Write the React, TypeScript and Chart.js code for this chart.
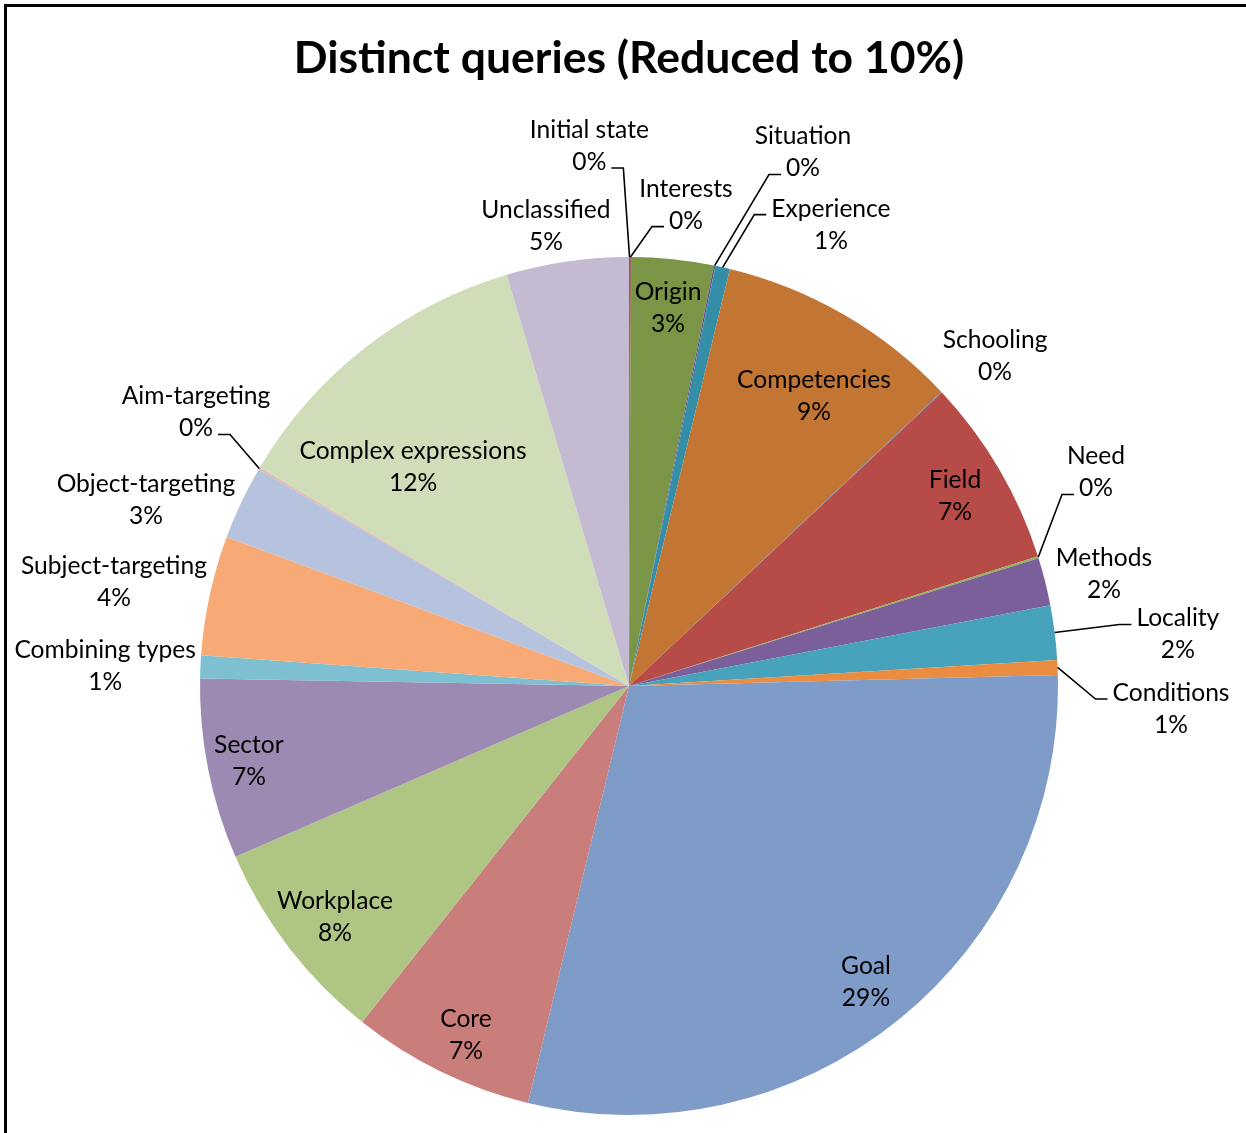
import React, { useEffect, useRef } from "react";
import { Chart, registerables } from "chart.js";

Chart.register(...registerables);

const chartTitle = "Distinct queries (Reduced to 10%)";

const categories = [
  "Initial state",
  "Interests",
  "Origin",
  "Situation",
  "Experience",
  "Competencies",
  "Schooling",
  "Field",
  "Need",
  "Methods",
  "Locality",
  "Conditions",
  "Goal",
  "Core",
  "Workplace",
  "Sector",
  "Combining types",
  "Subject-targeting",
  "Object-targeting",
  "Aim-targeting",
  "Complex expressions",
  "Unclassified",
];

const values = [
  0.04, 0.03, 3.1, 0.06, 0.55, 9.2, 0.03, 7.1, 0.08, 1.8, 2.05, 0.55, 29.2, 6.9,
  7.8, 6.8, 0.86, 4.5, 2.78, 0.08, 11.9, 4.6,
];

const sliceColors = [
  "#4A6FA0",
  "#9D3B38",
  "#7A9545",
  "#6A5390",
  "#348EA7",
  "#C37534",
  "#4F81BD",
  "#B64B48",
  "#93B255",
  "#7B5F9A",
  "#47A3BB",
  "#EA8D41",
  "#7F9CC8",
  "#C97E7C",
  "#AFC584",
  "#9D8AB3",
  "#7EBFD2",
  "#F8AA76",
  "#B5C3DE",
  "#E4B8B7",
  "#D0DDB9",
  "#C4BAD2",
];

// label layout: angle (degrees clockwise from 12 o'clock) and distance (fraction of radius)
const labelAngles = [
  355.8, 6.75, 5.9, 18.06, 23.64, 32.53, 47.96, 59.83, 65.43, 76.73, 84.64,
  92.43, 141.37, 205.0, 231.84, 258.84, 272.13, 281.42, 291.06, 302.28, 315.4,
  349.77,
];
const labelRadii = [
  1.262, 1.13, 0.8846, 1.308, 1.174, 0.8018, 1.149, 0.879, 1.197, 1.1376, 1.285,
  1.2646, 0.8848, 0.899, 0.8716, 0.903, 1.222, 1.2247, 1.2065, 1.1938, 0.717,
  1.0895,
];
const leaderLines = [
  true, true, false, true, true, false, false, false, true, false, true, true,
  false, false, false, false, false, false, false, true, false, false,
];

const FONT = "Lato, 'Open Sans', sans-serif";
const LABEL_SIZE = 24.6;
const LINE_H = 32;

const framePlugin = {
  id: "frame",
  beforeDraw(chart: any) {
    const ctx = chart.ctx;
    ctx.save();
    ctx.fillStyle = "#ffffff";
    ctx.fillRect(0, 0, chart.width, chart.height);
    ctx.strokeStyle = "#000000";
    ctx.lineWidth = 3;
    ctx.beginPath();
    ctx.moveTo(5.5, chart.height + 5);
    ctx.lineTo(5.5, 5.5);
    ctx.lineTo(chart.width + 5, 5.5);
    ctx.stroke();
    ctx.restore();
  },
};

const labelPlugin = {
  id: "pieLabels",
  afterDatasetsDraw(chart: any) {
    const ctx = chart.ctx;
    const meta = chart.getDatasetMeta(0);
    const total = values.reduce((a, b) => a + b, 0);
    ctx.save();
    ctx.font = `${LABEL_SIZE}px ${FONT}`;
    ctx.textAlign = "center";
    ctx.textBaseline = "middle";
    ctx.fillStyle = "#000000";
    ctx.strokeStyle = "#000000";
    ctx.lineWidth = 1.6;
    meta.data.forEach((arc: any, i: number) => {
      const p = arc.getProps(
        ["x", "y", "outerRadius", "startAngle", "endAngle"],
        true
      );
      const a = (labelAngles[i] * Math.PI) / 180;
      const r = labelRadii[i] * p.outerRadius;
      const cx = p.x + Math.sin(a) * r;
      const cy = p.y - Math.cos(a) * r;
      const lines = [
        categories[i],
        Math.round((values[i] / total) * 100) + "%",
      ];
      lines.forEach((t, k) => {
        ctx.fillText(t, cx, cy + (k - 0.5) * LINE_H);
      });
      if (leaderLines[i]) {
        const mid = (p.startAngle + p.endAngle) / 2;
        const ax = p.x + Math.cos(mid) * p.outerRadius;
        const ay = p.y + Math.sin(mid) * p.outerRadius;
        const left = ax < cx;
        let best: [number, number] | null = null;
        let bestD = Infinity;
        lines.forEach((t, k) => {
          const w = ctx.measureText(t).width;
          const ex = left ? cx - w / 2 - 5 : cx + w / 2 + 5;
          const ey = cy + (k - 0.5) * LINE_H + 6;
          const d = Math.hypot(ex - ax, ey - ay);
          if (d < bestD) {
            bestD = d;
            best = [ex, ey];
          }
        });
        if (best) {
          const [sx, sy] = best;
          const hx = left ? sx - 12 : sx + 12;
          ctx.beginPath();
          ctx.moveTo(sx, sy);
          ctx.lineTo(hx, sy);
          ctx.lineTo(ax, ay);
          ctx.stroke();
        }
      }
    });
    ctx.restore();
  },
};

export default function App() {
  const ref = useRef<HTMLCanvasElement | null>(null);
  useEffect(() => {
    if (!ref.current) return;
    const chart = new Chart(ref.current, {
      type: "pie",
      data: {
        labels: categories,
        datasets: [
          {
            data: values,
            backgroundColor: sliceColors,
            borderWidth: 0,
          },
        ],
      },
      options: {
        responsive: false,
        animation: false,
        layout: { padding: { left: 200, right: 188, top: 0, bottom: 18 } },
        plugins: {
          legend: { display: false },
          tooltip: { enabled: false },
          title: {
            display: true,
            text: chartTitle,
            color: "#000000",
            font: { family: FONT, size: 44.5, weight: "bold", lineHeight: 1.2 },
            padding: { top: 32, bottom: 171.6 },
          },
        },
      },
      plugins: [framePlugin, labelPlugin],
    });
    return () => chart.destroy();
  }, []);
  return (
    <div
      style={{
        position: "absolute",
        left: 0,
        top: 0,
        width: 1246,
        height: 1133,
        overflow: "hidden",
      }}
    >
      <canvas ref={ref} width={1246} height={1133} style={{ display: "block" }} />
    </div>
  );
}
